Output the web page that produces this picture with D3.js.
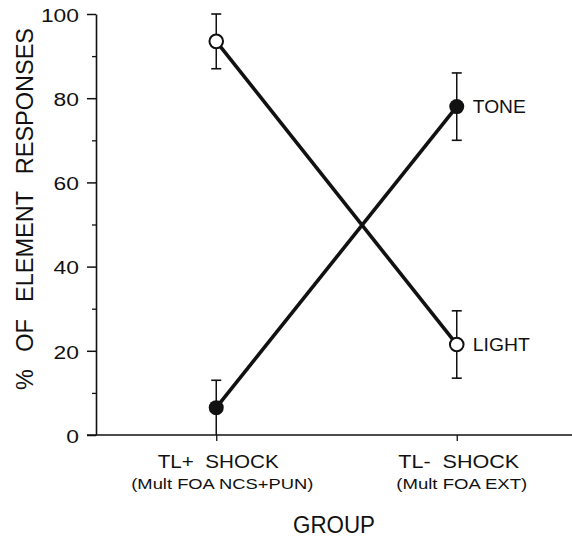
<!DOCTYPE html>
<html><head><meta charset="utf-8">
<script src="https://cdn.jsdelivr.net/npm/d3@7"></script>
<style>
html,body{margin:0;padding:0;background:#fff;}
svg{display:block;}
text{font-family:"Liberation Sans",Arial,Helvetica,sans-serif;fill:#111;}
</style></head>
<body>
<svg id="chart" width="572" height="537"></svg>
<script>
// ---- data ----
const groups = ["TL+  SHOCK", "TL-  SHOCK"];
const groupNotes = ["(Mult FOA NCS+PUN)", "(Mult FOA EXT)"];
const series = ["LIGHT", "TONE"];
const lightMean = [93.5, 21.5];
const lightLow  = [87, 13.5];
const lightHigh = [100, 29.5];
const toneMean  = [6.5, 78];
const toneLow   = [0, 70];
const toneHigh  = [13, 86];
const yTicks = [0, 20, 40, 60, 80, 100];
const yMinorTicks = [10, 30, 50, 70, 90];
const yTitle = "% OF ELEMENT RESPONSES";
const xTitle = "GROUP";

// ---- layout ----
const svg = d3.select("#chart");
const x = d3.scalePoint().domain(groups).range([96, 577]).padding(0.5);
const y = d3.scaleLinear().domain([0, 100]).range([435, 14]);
const ink = "#111";

// y axis (major)
const yAxis = svg.append("g").attr("transform", "translate(96,0)")
  .call(d3.axisLeft(y).tickValues(yTicks).tickSize(9).tickSizeOuter(0).tickPadding(8));
yAxis.select(".domain").attr("stroke", ink).attr("stroke-width", 1.6);
yAxis.selectAll(".tick line").attr("stroke", ink).attr("stroke-width", 1.5);
yAxis.selectAll(".tick text")
  .attr("font-size", 18).attr("fill", ink)
  .attr("dy", "0.4em")
  .attr("textLength", d => String(d).length * 12.7)
  .attr("lengthAdjust", "spacingAndGlyphs");

// y axis (minor)
const yMinor = svg.append("g").attr("transform", "translate(96,0)")
  .call(d3.axisLeft(y).tickValues(yMinorTicks).tickSize(4).tickSizeOuter(0).tickFormat(""));
yMinor.select(".domain").remove();
yMinor.selectAll(".tick line").attr("stroke", ink).attr("stroke-width", 1.3);

// x axis
const xAxis = svg.append("g").attr("transform", `translate(0,${y(0)})`)
  .call(d3.axisBottom(x).tickSize(6).tickSizeOuter(0).tickFormat(""));
xAxis.select(".domain").attr("d", `M87,0H572`).attr("stroke", ink).attr("stroke-width", 1.6);
xAxis.selectAll(".tick line").attr("stroke", ink).attr("stroke-width", 1.3);

// category labels
const catG = svg.append("g");
groups.forEach((g, i) => {
  catG.append("text").attr("x", x(g) + 2).attr("y", 468)
    .attr("text-anchor", "middle").attr("font-size", 18)
    .attr("xml:space", "preserve")
    .attr("textLength", 121).attr("lengthAdjust", "spacingAndGlyphs")
    .text(g);
  catG.append("text").attr("x", x(g) + (i === 0 ? 6 : 5)).attr("y", 489)
    .attr("text-anchor", "middle").attr("font-size", 14.5)
    .attr("textLength", i === 0 ? 182 : 131).attr("lengthAdjust", "spacingAndGlyphs")
    .text(groupNotes[i]);
});

// axis titles
svg.append("text").attr("x", 334).attr("y", 533).attr("text-anchor", "middle")
  .attr("font-size", 23).attr("textLength", 82).attr("lengthAdjust", "spacingAndGlyphs")
  .text(xTitle);
svg.append("text").attr("transform", "translate(33,209) rotate(-90)")
  .attr("text-anchor", "middle").attr("font-size", 24)
  .attr("word-spacing", 11)
  .attr("textLength", 362).attr("lengthAdjust", "spacingAndGlyphs")
  .text(yTitle);

// series
const data = {
  LIGHT: groups.map((g, i) => ({g, m: lightMean[i], lo: lightLow[i], hi: lightHigh[i]})),
  TONE:  groups.map((g, i) => ({g, m: toneMean[i],  lo: toneLow[i],  hi: toneHigh[i]}))
};
const line = d3.line().x(d => x(d.g)).y(d => y(d.m));

// error bars
series.forEach(s => {
  const eg = svg.append("g");
  data[s].forEach(d => {
    const cx = x(d.g);
    eg.append("line").attr("x1", cx).attr("x2", cx).attr("y1", y(d.lo)).attr("y2", y(d.hi))
      .attr("stroke", ink).attr("stroke-width", 1.5);
    [d.lo, d.hi].forEach(v => {
      if (v <= 0) return;
      eg.append("line").attr("x1", cx - 5).attr("x2", cx + 5).attr("y1", y(v)).attr("y2", y(v))
        .attr("stroke", ink).attr("stroke-width", 1.6);
    });
  });
});

// lines
series.forEach(s => {
  svg.append("path").datum(data[s]).attr("d", line)
    .attr("fill", "none").attr("stroke", ink).attr("stroke-width", 3.6);
});

// markers
svg.append("g").selectAll("circle").data(data.LIGHT).join("circle")
  .attr("cx", d => x(d.g)).attr("cy", d => y(d.m)).attr("r", 6.8)
  .attr("fill", "#fff").attr("stroke", ink).attr("stroke-width", 2);
svg.append("g").selectAll("circle").data(data.TONE).join("circle")
  .attr("cx", d => x(d.g)).attr("cy", d => y(d.m)).attr("r", 7.5)
  .attr("fill", ink);

// series labels
const last = groups[groups.length - 1];
svg.append("text").attr("x", x(last) + 16).attr("y", y(toneMean[1]) + 6)
  .attr("font-size", 19).attr("textLength", 53).attr("lengthAdjust", "spacingAndGlyphs")
  .text("TONE");
svg.append("text").attr("x", x(last) + 16).attr("y", y(lightMean[1]) + 7)
  .attr("font-size", 19).attr("textLength", 57).attr("lengthAdjust", "spacingAndGlyphs")
  .text("LIGHT");
</script>
</body></html>
